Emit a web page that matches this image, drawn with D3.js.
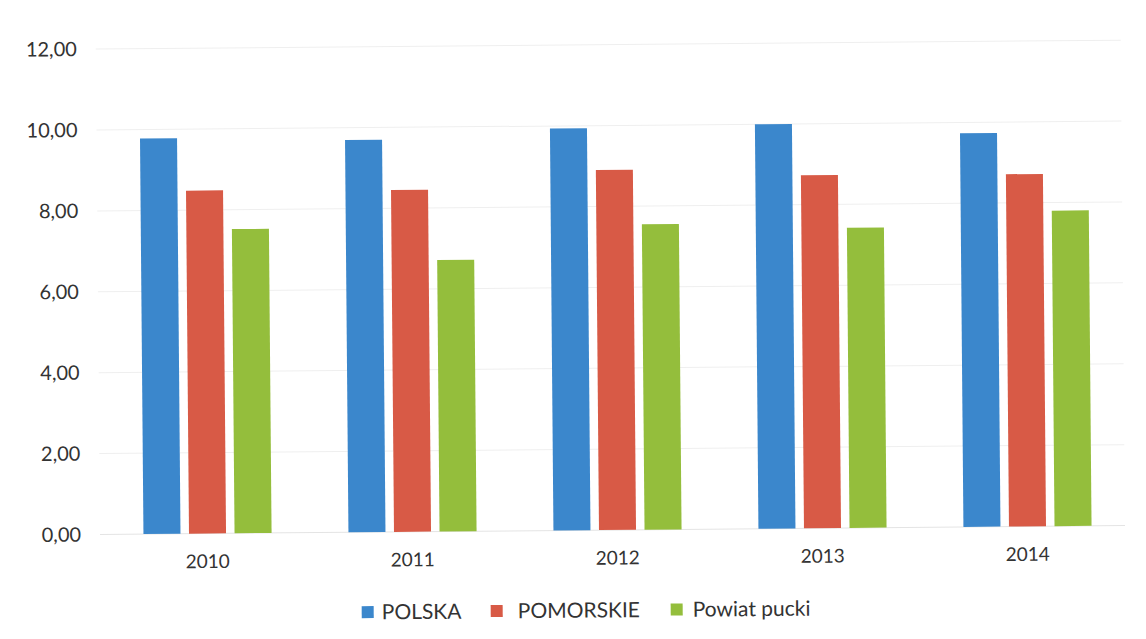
<!DOCTYPE html>
<html>
<head>
<meta charset="utf-8">
<script src="https://cdn.jsdelivr.net/npm/d3@7"></script>
<style>
  html, body { margin: 0; padding: 0; background: #fff; }
  svg { display: block; }
  text { font-family: Lato, "Open Sans", sans-serif; fill: #333; }
</style>
</head>
<body>
<svg id="chart" width="1146" height="639"></svg>
<script>
// Years on the category axis
const years = ["2010", "2011", "2012", "2013", "2014"];

// Series values per year
const polska    = [9.78, 9.70, 9.94, 10.00, 9.73];
const pomorskie = [8.48, 8.45, 8.90, 8.73, 8.71];
const powiatPucki = [7.52, 6.71, 7.55, 7.42, 7.80];

const seriesNames = ["POLSKA", "POMORSKIE", "Powiat pucki"];
const seriesColors = ["#3b87cc", "#d85a46", "#94be3c"];

// Value axis ticks
const yTicks = [0, 2, 4, 6, 8, 10, 12];

const seriesValues = [polska, pomorskie, powiatPucki];
const table = years.map((year, i) => ({
  year,
  values: seriesNames.map((name, s) => ({ name, value: seriesValues[s][i], color: seriesColors[s] }))
}));

const svg = d3.select("#chart");
// the printed page sits slightly askew
const root = svg.append("g").attr("transform", "rotate(-0.5, 612, 530)");

const x0 = d3.scaleBand().domain(years).range([105, 1130]).paddingInner(0.375).paddingOuter(0.1875);
const x1 = d3.scaleBand().domain(seriesNames).range([0, x0.bandwidth()]).paddingInner(0.187);
const y = d3.scaleLinear().domain([0, 12]).range([530, 44.6]);

// horizontal gridlines
root.append("g")
  .selectAll("line")
  .data(yTicks)
  .join("line")
  .attr("x1", 100).attr("x2", 1125)
  .attr("y1", d => y(d)).attr("y2", d => y(d))
  .attr("stroke", d => d === 0 ? "#e4e4e4" : "#efefef")
  .attr("stroke-width", 1);

// value axis labels
const yAxis = d3.axisLeft(y)
  .tickValues(yTicks)
  .tickSize(0)
  .tickPadding(0)
  .tickFormat(d => d3.format(".2f")(d).replace(".", ","));
const yg = root.append("g").attr("transform", "translate(81,0)").call(yAxis);
yg.select(".domain").remove();
yg.selectAll("text").attr("font-size", 20).attr("fill", "#333").style("font-family", "Lato, sans-serif");

// bars
const groups = root.append("g")
  .selectAll("g")
  .data(table)
  .join("g")
  .attr("transform", d => `translate(${x0(d.year)},0)`);

groups.selectAll("rect")
  .data(d => d.values)
  .join("rect")
  .attr("x", d => x1(d.name))
  .attr("width", x1.bandwidth())
  .attr("y", d => y(d.value))
  .attr("height", d => y(0) - y(d.value))
  .attr("fill", d => d.color);

// category axis labels
const xAxis = d3.axisBottom(x0).tickSize(0).tickPadding(0);
const xg = root.append("g").attr("transform", `translate(0,${y(0) + 21})`).call(xAxis);
xg.select(".domain").remove();
xg.selectAll("text").attr("font-size", 19).attr("fill", "#333").style("font-family", "Lato, sans-serif");

// legend
const legendItems = [
  { name: "POLSKA", color: seriesColors[0], x: 361, tx: 20 },
  { name: "POMORSKIE", color: seriesColors[1], x: 490, tx: 27 },
  { name: "Powiat pucki", color: seriesColors[2], x: 670, tx: 22 }
];
const legend = root.append("g");
const li = legend.selectAll("g").data(legendItems).join("g")
  .attr("transform", d => `translate(${d.x},610)`);
li.append("rect").attr("x", 0).attr("y", -6).attr("width", 12).attr("height", 12).attr("fill", d => d.color);
li.append("text").attr("x", d => d.tx).attr("y", 0).attr("dy", "0.35em")
  .attr("font-size", 21).text(d => d.name);
</script>
</body>
</html>
